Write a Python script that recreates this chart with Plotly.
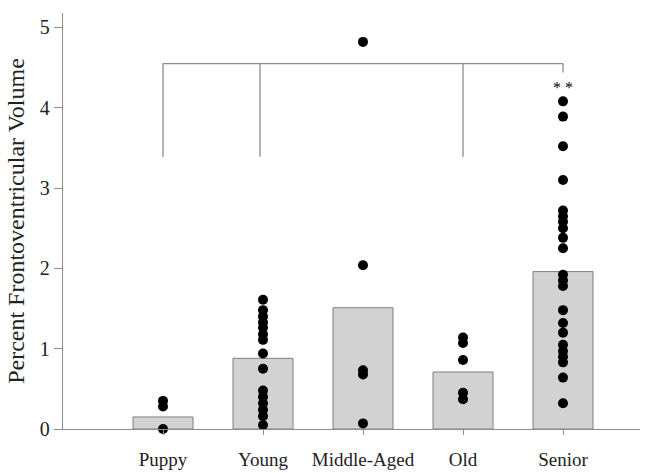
import plotly.graph_objects as go

categories = ["Puppy", "Young", "Middle-Aged", "Old", "Senior"]
bar_means = [0.15, 0.88, 1.51, 0.71, 1.96]

puppy = [0.35, 0.28, 0.0]
young = [1.61, 1.48, 1.40, 1.33, 1.26, 1.18, 1.11, 0.94, 0.75, 0.48, 0.40, 0.32, 0.24, 0.16, 0.05]
middle = [4.82, 2.04, 0.73, 0.68, 0.07]
old = [1.14, 1.07, 0.86, 0.45, 0.37]
senior = [4.08, 3.89, 3.52, 3.10, 2.72, 2.65, 2.58, 2.50, 2.38, 2.25, 1.92, 1.85, 1.78,
          1.48, 1.32, 1.20, 1.05, 0.97, 0.90, 0.83, 0.64, 0.32]
groups = [puppy, young, middle, old, senior]

bracket_x = [0, 0.97, 3, 4]
bracket_top = 4.55
bracket_bottom = [3.39, 3.39, 3.39, 4.44]
star_text = "* *"
star_y = 4.25

xpos = list(range(len(categories)))
FONT = "Liberation Serif, Times New Roman, serif"

fig = go.Figure()
fig.add_trace(go.Bar(
    x=xpos, y=bar_means, width=0.6,
    marker=dict(color="#d2d2d2", line=dict(color="#7f7f7f", width=1)),
    showlegend=False, hoverinfo="skip",
))

for i, g in enumerate(groups):
    fig.add_trace(go.Scatter(
        x=[i] * len(g), y=g, mode="markers",
        marker=dict(color="black", size=10),
        cliponaxis=False, showlegend=False,
    ))

# bracket
fig.add_trace(go.Scatter(
    x=[bracket_x[0], bracket_x[-1]], y=[bracket_top, bracket_top], mode="lines",
    line=dict(color="#8c8c8c", width=1.3), showlegend=False, hoverinfo="skip",
))
for bx, bb in zip(bracket_x, bracket_bottom):
    fig.add_trace(go.Scatter(
        x=[bx, bx], y=[bracket_top, bb], mode="lines",
        line=dict(color="#8c8c8c", width=1.3), showlegend=False, hoverinfo="skip",
    ))

fig.add_annotation(x=4, y=star_y, text=star_text, showarrow=False,
                   font=dict(family=FONT, size=16, color="#000000"))

fig.update_layout(
    width=666, height=473,
    margin=dict(l=63, r=26, t=13, b=44, autoexpand=False),
    paper_bgcolor="white", plot_bgcolor="white",
    font=dict(family=FONT, size=19, color="#222"),
    bargap=0.4,
)
fig.update_xaxes(
    range=[-1, 4.77], tickvals=xpos, ticktext=categories,
    showline=True, linecolor="#8c8c8c", linewidth=1.3,
    ticks="outside", ticklen=5, tickcolor="#8c8c8c",
    showgrid=False, zeroline=False, ticklabelstandoff=8,
    tickfont=dict(size=19), automargin=False,
)
fig.update_yaxes(
    range=[0, 5.18], tickvals=[0, 1, 2, 3, 4, 5],
    showline=True, linecolor="#8c8c8c", linewidth=1.3,
    ticks="outside", ticklen=8, tickcolor="#8c8c8c",
    showgrid=False, zeroline=False, tickfont=dict(size=20), automargin=False,
    title=dict(text="Percent Frontoventricular Volume", font=dict(size=24), standoff=8),
)

fig.write_html("out.html")
